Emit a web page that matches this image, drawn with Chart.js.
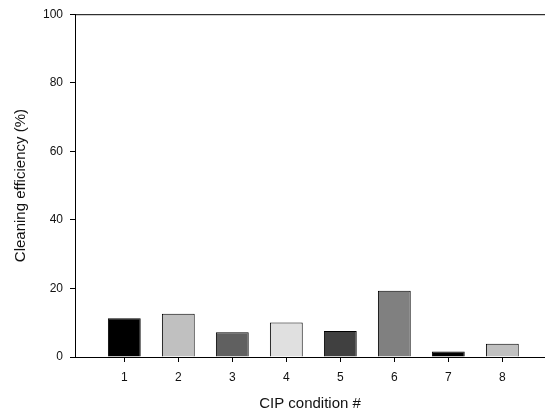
<!DOCTYPE html>
<html>
<head>
<meta charset="utf-8">
<script src="https://cdn.jsdelivr.net/npm/chart.js@4"></script>
<style>
  html, body { margin: 0; padding: 0; background: #fff; }
  #wrap { width: 545px; height: 414px; }
</style>
</head>
<body>
<div id="wrap"><canvas id="cipChart" width="545" height="414"></canvas></div>
<script>
const conditions = [1, 2, 3, 4, 5, 6, 7, 8];
const efficiency = [11.3, 12.6, 7.2, 10.1, 7.6, 19.3, 1.6, 3.9];
const barColors = ['#000000', '#c0c0c0', '#606060', '#e0e0e0', '#404040', '#808080', '#000000', '#c0c0c0'];
const yTicks = [0, 20, 40, 60, 80, 100];

const fontFamily = '"Liberation Sans", Arial, sans-serif';

// thin line along the top of the plot frame
const topFrame = {
  id: 'topFrame',
  afterDraw(chart) {
    const { ctx, chartArea } = chart;
    ctx.save();
    ctx.strokeStyle = '#000';
    ctx.lineWidth = 1;
    ctx.beginPath();
    ctx.moveTo(chartArea.left, chartArea.top + 0.5);
    ctx.lineTo(chartArea.right, chartArea.top + 0.5);
    ctx.stroke();
    ctx.restore();
  }
};

const chartConfig = {
  type: 'bar',
  data: {
    datasets: [{
      data: conditions.map((c, i) => ({ x: c, y: efficiency[i] })),
      backgroundColor: barColors,
      borderColor: '#000',
      borderWidth: 1,
      barPercentage: 0.76,
      categoryPercentage: 0.8
    }]
  },
  options: {
    responsive: false,
    animation: false,
    layout: { padding: { top: 10, right: 0, left: 0, bottom: 0 } },
    plugins: {
      legend: { display: false },
      tooltip: { enabled: false }
    },
    scales: {
      x: {
        type: 'linear',
        offset: false,
        min: 0.087,
        max: 8.79,
        afterBuildTicks: axis => { axis.ticks = conditions.map(v => ({ value: v })); },
        afterFit: scale => { scale.height = 57; },
        grid: { offset: false, drawOnChartArea: false, tickLength: 5, color: '#000' },
        border: { color: '#000', width: 1 },
        ticks: {
          color: '#111',
          padding: 8,
          maxRotation: 0,
          font: { family: fontFamily, size: 12 }
        },
        title: {
          display: true,
          text: 'CIP condition #',
          color: '#111',
          padding: { top: 0, bottom: 1 },
          font: { family: fontFamily, size: 15 }
        }
      },
      y: {
        min: 0,
        max: 100,
        afterBuildTicks: axis => { axis.ticks = yTicks.map(v => ({ value: v })); },
        afterFit: scale => { scale.width = 75; },
        grid: { drawOnChartArea: false, tickLength: 5, color: '#000' },
        border: { color: '#000', width: 1 },
        ticks: {
          color: '#111',
          padding: 7,
          font: { family: fontFamily, size: 12 }
        },
        title: {
          display: true,
          text: 'Cleaning efficiency (%)',
          color: '#111',
          padding: { top: 12, bottom: 0 },
          font: { family: fontFamily, size: 15 }
        }
      }
    }
  },
  plugins: [topFrame]
};

window.onload = () => {
  const ctx = document.getElementById('cipChart').getContext('2d');
  new Chart(ctx, chartConfig);
};
</script>
</body>
</html>
